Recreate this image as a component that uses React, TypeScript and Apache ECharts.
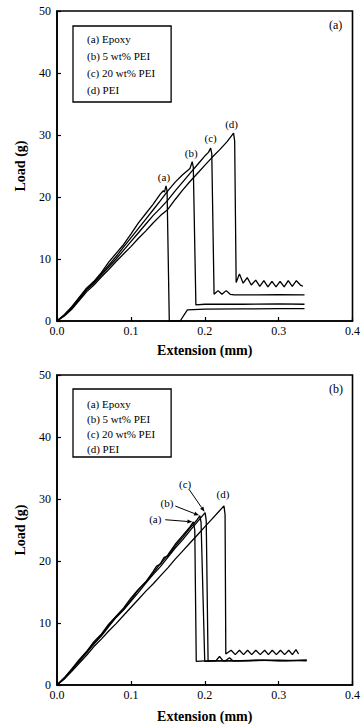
import React, { useEffect, useRef } from "react";
import * as echarts from "echarts";

type Pt = [number, number];

const seriesNames = ["(a) Epoxy", "(b) 5 wt% PEI", "(c) 20 wt% PEI", "(d) PEI"];
const peakLabels = ["(a)", "(b)", "(c)", "(d)"];
const panelLabels = ["(a)", "(b)"];
const xAxisTitle = "Extension (mm)";
const yAxisTitle = "Load (g)";

// ---------- panel (a) ----------
const topEpoxy: Pt[] = [
  [0, 0], [0.005, 0.5], [0.01, 1.0], [0.02, 2.3], [0.03, 3.8], [0.04, 5.3], [0.05, 6.4],
  [0.06, 7.8], [0.07, 9.5], [0.08, 10.9], [0.09, 12.3], [0.1, 14.0], [0.11, 15.8],
  [0.12, 17.3], [0.13, 18.8], [0.14, 20.5], [0.144, 21.0], [0.1455, 20.8], [0.1475, 21.8],
  [0.149, 21.0], [0.152, 0], [0.1667, 0], [0.1765, 1.8], [0.2, 1.9], [0.25, 1.95],
  [0.3, 2.0], [0.335, 2.0],
];
const top5PEI: Pt[] = [
  [0, 0], [0.01, 1.0], [0.02, 2.2], [0.03, 3.7], [0.04, 5.2], [0.05, 6.3], [0.06, 7.6],
  [0.07, 9.0], [0.08, 10.4], [0.09, 11.9], [0.1, 13.4], [0.11, 14.9], [0.12, 16.4],
  [0.13, 17.9], [0.14, 19.4], [0.15, 21.0], [0.16, 22.4], [0.17, 23.6], [0.176, 24.2],
  [0.18, 24.6], [0.183, 25.7], [0.1845, 24.8], [0.188, 2.6], [0.2, 2.7], [0.25, 2.7],
  [0.3, 2.75], [0.335, 2.7],
];
const top20PEI: Pt[] = [
  [0, 0], [0.01, 0.9], [0.02, 2.1], [0.03, 3.5], [0.04, 5.0], [0.05, 6.1], [0.06, 7.4],
  [0.07, 8.7], [0.08, 10.0], [0.09, 11.4], [0.1, 12.8], [0.11, 14.2], [0.12, 15.6],
  [0.13, 17.0], [0.14, 18.2], [0.15, 19.5], [0.16, 21.0], [0.17, 22.4], [0.18, 23.8],
  [0.19, 25.2], [0.2, 26.6], [0.205, 27.2], [0.208, 27.9], [0.2095, 27.0], [0.2126, 4.3],
  [0.218, 4.9], [0.2233, 4.3], [0.229, 4.9], [0.2345, 4.3], [0.24, 4.2], [0.27, 4.2],
  [0.3, 4.25], [0.335, 4.2],
];
const topPEI: Pt[] = [
  [0, 0], [0.01, 0.8], [0.02, 1.9], [0.03, 3.3], [0.04, 4.7], [0.05, 5.8], [0.06, 7.1],
  [0.07, 8.3], [0.08, 9.6], [0.09, 10.8], [0.1, 12.0], [0.11, 13.3], [0.12, 14.5],
  [0.13, 15.8], [0.14, 17.0], [0.15, 18.0], [0.16, 19.6], [0.17, 21.1], [0.18, 22.5],
  [0.19, 23.8], [0.2, 25.1], [0.21, 26.4], [0.22, 27.6], [0.23, 28.9], [0.239, 30.3],
  [0.2405, 29.0], [0.2425, 6.2], [0.247, 7.6], [0.252, 6.1], [0.2575, 7.0], [0.263, 5.8],
  [0.269, 6.6], [0.2745, 5.6], [0.28, 6.5], [0.2855, 5.5], [0.291, 6.4], [0.2965, 5.5],
  [0.302, 6.4], [0.3075, 5.5], [0.313, 6.5], [0.3185, 5.6], [0.324, 6.5], [0.3295, 5.8],
  [0.333, 5.6],
];

// ---------- panel (b) ----------
const botEpoxy: Pt[] = [
  [0, 0], [0.01, 1.2], [0.02, 2.6], [0.03, 4.1], [0.04, 5.4], [0.05, 7.0], [0.06, 8.2],
  [0.07, 9.8], [0.08, 11.1], [0.09, 12.4], [0.1, 14.0], [0.11, 15.4], [0.12, 16.6],
  [0.13, 18.3], [0.135, 19.2], [0.14, 19.5], [0.15, 21.0], [0.16, 22.7], [0.17, 24.1],
  [0.18, 25.5], [0.1845, 26.3], [0.1865, 25.0], [0.1885, 3.8], [0.2, 3.9], [0.22, 3.9],
  [0.25, 3.9], [0.28, 4.0], [0.31, 3.9], [0.338, 4.0],
];
const bot5PEI: Pt[] = [
  [0, 0], [0.01, 1.1], [0.02, 2.5], [0.03, 3.9], [0.04, 5.3], [0.05, 6.8], [0.06, 8.1],
  [0.07, 9.6], [0.08, 11.0], [0.09, 12.2], [0.1, 13.7], [0.11, 15.3], [0.12, 16.6],
  [0.13, 18.0], [0.14, 19.6], [0.145, 20.6], [0.15, 20.8], [0.16, 22.4], [0.17, 23.8],
  [0.18, 25.3], [0.19, 26.7], [0.1935, 27.3], [0.195, 26.2], [0.2, 3.8], [0.215, 3.9],
  [0.22, 4.6], [0.225, 3.9], [0.26, 3.9], [0.3, 4.0], [0.338, 3.9],
];
const bot20PEI: Pt[] = [
  [0, 0], [0.01, 1.0], [0.02, 2.4], [0.03, 3.8], [0.04, 5.2], [0.05, 6.6], [0.06, 7.9],
  [0.07, 9.4], [0.08, 10.9], [0.09, 12.1], [0.1, 13.5], [0.11, 14.9], [0.12, 16.4],
  [0.13, 17.8], [0.14, 19.1], [0.15, 20.6], [0.16, 22.1], [0.17, 23.4], [0.18, 24.9],
  [0.19, 26.3], [0.2005, 27.8], [0.202, 26.5], [0.2045, 3.9], [0.228, 3.9], [0.2335, 4.4],
  [0.238, 3.9], [0.27, 4.0], [0.3, 3.9], [0.338, 4.0],
];
const botPEI: Pt[] = [
  [0, 0], [0.01, 1.0], [0.02, 2.2], [0.03, 3.5], [0.04, 4.8], [0.05, 6.2], [0.06, 7.4],
  [0.07, 8.7], [0.08, 9.9], [0.09, 11.2], [0.1, 12.5], [0.11, 13.8], [0.12, 15.1],
  [0.13, 16.3], [0.14, 17.6], [0.15, 18.9], [0.16, 20.3], [0.17, 21.6], [0.18, 22.9],
  [0.19, 24.2], [0.2, 25.5], [0.21, 26.8], [0.22, 28.1], [0.226, 28.9], [0.2275, 27.5],
  [0.2285, 5.0], [0.2357, 5.6], [0.2413, 4.9], [0.2469, 5.6], [0.2525, 4.9], [0.258, 5.6],
  [0.2636, 4.9], [0.2691, 5.6], [0.2751, 4.9], [0.2811, 5.6], [0.2862, 4.9], [0.2914, 5.6],
  [0.297, 4.9], [0.3025, 5.6], [0.3081, 4.9], [0.3137, 5.6], [0.3186, 4.9], [0.3235, 5.7],
  [0.327, 5.0],
];

const panels: Pt[][][] = [
  [topEpoxy, top5PEI, top20PEI, topPEI],
  [botEpoxy, bot5PEI, bot20PEI, botPEI],
];

const FONT = "'Liberation Serif', 'DejaVu Serif', serif";

function peakOf(arr: Pt[]): Pt {
  let best = arr[0];
  for (const p of arr) if (p[1] > best[1]) best = p;
  return best;
}

// label placement (pixel offsets from the peak) and whether an arrow points at it
const labelPlacement: { dx: number; dy: number; arrow: boolean }[][] = [
  [
    { dx: -2, dy: -9, arrow: false },
    { dx: -1, dy: -9, arrow: false },
    { dx: 0, dy: -10, arrow: false },
    { dx: -2, dy: -9, arrow: false },
  ],
  [
    { dx: -38, dy: -3, arrow: true },
    { dx: -33, dy: -13, arrow: true },
    { dx: -20, dy: -29, arrow: true },
    { dx: -1, dy: -12, arrow: false },
  ],
];

export default function App() {
  const ref = useRef<HTMLDivElement>(null);
  useEffect(() => {
    const chart = echarts.init(ref.current!, null, { renderer: "svg" });
    const gridTops = [11, 375];
    const grids = gridTops.map((t) => ({
      left: 57,
      top: t,
      width: 299,
      height: 310,
      show: true,
      borderColor: "#000",
      borderWidth: 1.6,
      backgroundColor: "transparent",
    }));
    const axisLine = { show: true, lineStyle: { color: "#000", width: 1.6 } };
    const axisTick = { show: true, inside: true, length: 4, lineStyle: { color: "#000", width: 1.2 } };
    const xAxes = gridTops.map((_, i) => ({
      gridIndex: i,
      type: "value",
      min: 0,
      max: 0.4,
      interval: 0.1,
      axisLine,
      axisTick,
      splitLine: { show: false },
      axisLabel: {
        color: "#000",
        fontSize: 12,
        fontFamily: FONT,
        margin: 4,
        formatter: (v: number) => v.toFixed(1),
      },
      name: xAxisTitle,
      nameLocation: "middle",
      nameGap: i === 0 ? 22 : 24,
      nameTextStyle: { color: "#000", fontSize: 14, fontWeight: "bold", fontFamily: FONT },
    }));
    const yAxes = gridTops.map((_, i) => ({
      gridIndex: i,
      type: "value",
      min: 0,
      max: 50,
      interval: 10,
      axisLine,
      axisTick,
      splitLine: { show: false },
      axisLabel: { color: "#000", fontSize: 12, fontFamily: FONT, margin: 6 },
      name: yAxisTitle,
      nameLocation: "middle",
      nameGap: 30,
      nameTextStyle: { color: "#000", fontSize: 14, fontWeight: "bold", fontFamily: FONT },
    }));

    const series: any[] = [];
    panels.forEach((curves, pi) => {
      curves.forEach((data, ci) => {
        series.push({
          type: "line",
          name: seriesNames[ci],
          xAxisIndex: pi,
          yAxisIndex: pi,
          data,
          showSymbol: false,
          symbol: "none",
          lineStyle: { color: "#000", width: 1.3 },
          itemStyle: { color: "#000" },
          z: 3,
        });
      });
      const peaks = curves.map((c) => peakOf(c));
      series.push({
        type: "custom",
        name: "peaks" + pi,
        xAxisIndex: pi,
        yAxisIndex: pi,
        data: peaks,
        silent: true,
        z: 5,
        renderItem: (params: any, api: any) => {
          const idx = params.dataIndex;
          const p = api.coord([api.value(0), api.value(1)]);
          const pl = labelPlacement[pi][idx];
          const tx = p[0] + pl.dx;
          const ty = p[1] + pl.dy;
          const children: any[] = [
            {
              type: "text",
              x: tx,
              y: ty,
              style: {
                text: peakLabels[idx],
                fill: "#000",
                font: `11px ${FONT}`,
                align: "center",
                verticalAlign: "middle",
              },
            },
          ];
          if (pl.arrow) {
            const vx = p[0] - tx;
            const vy = p[1] - ty;
            const len = Math.sqrt(vx * vx + vy * vy);
            const ux = vx / len;
            const uy = vy / len;
            const rx = 10;
            const ry = 6;
            const r = 1 / Math.sqrt((ux / rx) ** 2 + (uy / ry) ** 2);
            const sx = tx + ux * r;
            const sy = ty + uy * r;
            const ex = p[0] - ux * 1;
            const ey = p[1] - uy * 1;
            const ah = 5;
            const aw = 2;
            const bx = ex - ux * ah;
            const by = ey - uy * ah;
            children.push({
              type: "line",
              shape: { x1: sx, y1: sy, x2: bx, y2: by },
              style: { stroke: "#000", lineWidth: 1 },
            });
            children.push({
              type: "polygon",
              shape: {
                points: [
                  [ex, ey],
                  [bx - uy * aw, by + ux * aw],
                  [bx + uy * aw, by - ux * aw],
                ],
              },
              style: { fill: "#000" },
            });
          }
          return { type: "group", children };
        },
      });
    });

    const legendBase = {
      data: seriesNames,
      orient: "vertical",
      left: 73,
      itemWidth: 1,
      itemHeight: 1,
      itemStyle: { opacity: 0 },
      lineStyle: { opacity: 0 },
      selectedMode: false,
      borderColor: "#000",
      borderWidth: 1.3,
      borderRadius: 0,
      textStyle: { color: "#000", fontSize: 11, fontFamily: FONT, lineHeight: 13 },
    };

    const option: any = {
      animation: false,
      backgroundColor: "#fff",
      grid: grids,
      xAxis: xAxes,
      yAxis: yAxes,
      legend: [
        { ...legendBase, top: 26, itemGap: 4, padding: [6, 16, 6, 7] },
        { ...legendBase, top: 389, itemGap: 2, padding: [8, 16, 2, 7] },
      ],
      graphic: panelLabels.map((t, i) => ({
        type: "text",
        left: 329,
        top: gridTops[i] + 8,
        style: { text: t, fill: "#000", font: `12px ${FONT}` },
      })),
      series,
    };
    chart.setOption(option);
    return () => chart.dispose();
  }, []);
  return (
    <div
      ref={ref}
      style={{ position: "absolute", left: 0, top: 0, width: 363, height: 724 }}
    />
  );
}
